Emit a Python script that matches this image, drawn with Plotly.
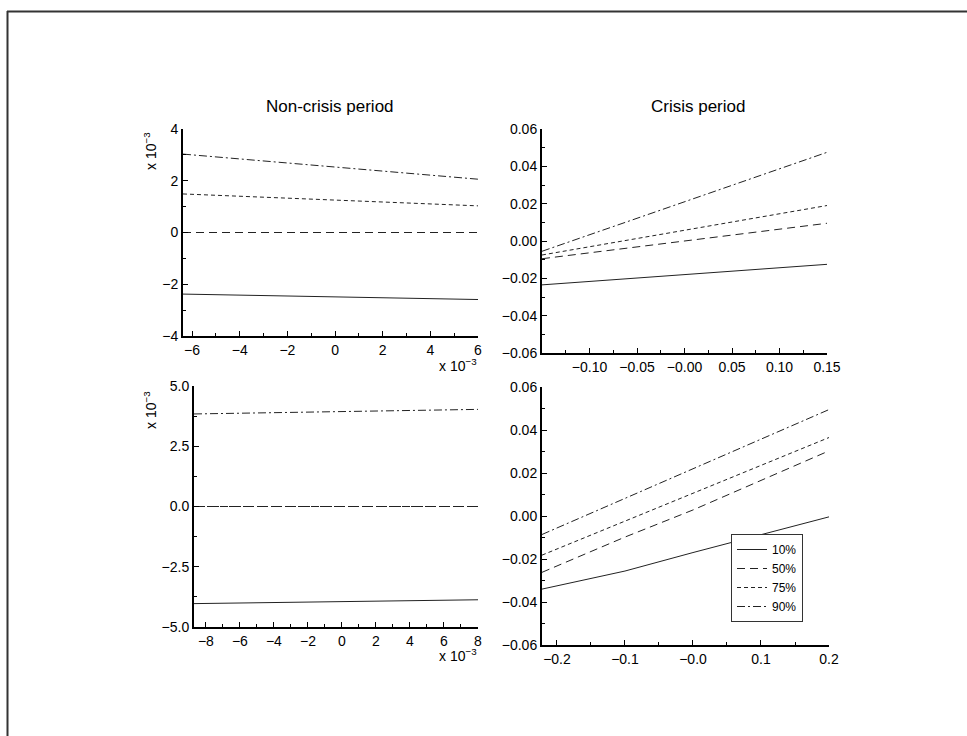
import plotly.graph_objects as go

W, H = 967, 736

series_names = ["10%", "50%", "75%", "90%"]

# Panel 1: Non-crisis period (values in units of 1e-3)
x1 = [-6.38, 6.0]
p1_10 = [-2.38, -2.59]
p1_50 = [0.0, 0.0]
p1_75 = [1.49, 1.03]
p1_90 = [3.03, 2.06]

# Panel 2: Crisis period
x2 = [-0.15, 0.15]
p2_10 = [-0.0235, -0.0125]
p2_50 = [-0.0095, 0.0095]
p2_75 = [-0.0075, 0.019]
p2_90 = [-0.0055, 0.0475]

# Panel 3: Non-crisis period (values in units of 1e-3)
x3 = [-8.7, 8.0]
p3_10 = [-4.03, -3.87]
p3_50 = [0.0, 0.0]
p3_75 = [0.0, 0.0]
p3_90 = [3.84, 4.03]

# Panel 4: Crisis period
x4 = [-0.222, -0.1, 0.0, 0.1, 0.2]
p4_10 = [-0.034, -0.0256, -0.017, -0.0086, -0.0004]
p4_50 = [-0.0262, -0.0098, 0.0028, 0.0166, 0.0303]
p4_75 = [-0.0182, -0.0023, 0.0107, 0.0236, 0.0365]
p4_90 = [-0.0086, 0.0081, 0.0218, 0.0356, 0.0495]

# tick labels
t1x = [-6, -4, -2, 0, 2, 4, 6]
t1x_txt = ["−6", "−4", "−2", "0", "2", "4", "6"]
t1y = [-4, -2, 0, 2, 4]
t1y_txt = ["−4", "−2", "0", "2", "4"]
t2x = [-0.10, -0.05, 0.0, 0.05, 0.10, 0.15]
t2x_txt = ["−0.10", "−0.05", "−0.00", "0.05", "0.10", "0.15"]
t2y = [-0.06, -0.04, -0.02, 0.0, 0.02, 0.04, 0.06]
t2y_txt = ["−0.06", "−0.04", "−0.02", "0.00", "0.02", "0.04", "0.06"]
t3x = [-8, -6, -4, -2, 0, 2, 4, 6, 8]
t3x_txt = ["−8", "−6", "−4", "−2", "0", "2", "4", "6", "8"]
t3y = [-5, -2.5, 0, 2.5, 5]
t3y_txt = ["−5.0", "−2.5", "0.0", "2.5", "5.0"]
t4x = [-0.2, -0.1, 0.0, 0.1, 0.2]
t4x_txt = ["−0.2", "−0.1", "−0.0", "0.1", "0.2"]

dashes = ["solid", "8px,5px", "4px,3px", "8px,3px,2px,3px"]
LC = "#222222"

fig = go.Figure()

panels = [
    (x1, [p1_10, p1_50, p1_75, p1_90], "x", "y"),
    (x2, [p2_10, p2_50, p2_75, p2_90], "x2", "y2"),
    (x3, [p3_10, p3_50, p3_75, p3_90], "x3", "y3"),
    (x4, [p4_10, p4_50, p4_75, p4_90], "x4", "y4"),
]
for pi, (xs, ys_list, xa, ya) in enumerate(panels):
    for si, ys in enumerate(ys_list):
        fig.add_trace(go.Scatter(
            x=xs, y=ys, mode="lines", xaxis=xa, yaxis=ya,
            name=series_names[si], showlegend=(pi == 3),
            line=dict(color=LC, width=1, dash=dashes[si]),
            hoverinfo="skip",
        ))

def px_dom_x(a, b):
    return [a / W, b / W]

def px_dom_y(top, bottom):
    return [1 - bottom / H, 1 - top / H]

FONT = "Liberation Sans, Arial, sans-serif"
TICK_SIZE = 14

def axis(domain, rng, tv, tt, minor_vals, anchor):
    return dict(
        domain=domain, range=rng, anchor=anchor, automargin=False,
        fixedrange=True,
        tickmode="array", tickvals=tv, ticktext=tt,
        ticks="inside", ticklen=5, tickwidth=1, tickcolor="black",
        minor=dict(ticks="inside", ticklen=3, tickwidth=1, tickcolor="black",
                   tickmode="array", tickvals=minor_vals),
        showline=True, linewidth=2, linecolor="black",
        showgrid=False, zeroline=False,
        tickfont=dict(family=FONT, size=TICK_SIZE, color="black"),
    )

layout = dict(
    width=W, height=H, autosize=False,
    margin=dict(l=0, r=0, t=0, b=0, pad=0),
    paper_bgcolor="white", plot_bgcolor="white",
    font=dict(family=FONT, size=12, color="black"),
    xaxis=axis(px_dom_x(183, 478), [-6.38, 6.0], t1x, t1x_txt,
               [-5, -3, -1, 1, 3, 5], "y"),
    yaxis=axis(px_dom_y(129, 336), [-4, 4], t1y, t1y_txt,
               [-3, -1, 1, 3], "x"),
    xaxis2=axis(px_dom_x(542, 827), [-0.15, 0.15], t2x, t2x_txt,
                [-0.125, -0.075, -0.025, 0.025, 0.075, 0.125], "y2"),
    yaxis2=axis(px_dom_y(129, 353), [-0.06, 0.06], t2y, t2y_txt,
                [-0.05, -0.03, -0.01, 0.01, 0.03, 0.05], "x2"),
    xaxis3=axis(px_dom_x(194, 478), [-8.7, 8.0], t3x, t3x_txt,
                [-7, -5, -3, -1, 1, 3, 5, 7], "y3"),
    yaxis3=axis(px_dom_y(386, 627), [-5, 5], t3y, t3y_txt,
                [-3.75, -1.25, 1.25, 3.75], "x3"),
    xaxis4=axis(px_dom_x(542, 829), [-0.222, 0.2], t4x, t4x_txt,
                [-0.15, -0.05, 0.05, 0.15], "y4"),
    yaxis4=axis(px_dom_y(387, 645), [-0.06, 0.06], t2y, t2y_txt,
                [-0.05, -0.03, -0.01, 0.01, 0.03, 0.05], "x4"),
    showlegend=True,
    hovermode=False,
    legend=dict(
        x=731 / W, y=1 - 534 / H, xanchor="left", yanchor="top",
        bgcolor="white", bordercolor="#333333", borderwidth=1,
        font=dict(family=FONT, size=12, color="black"),
        itemwidth=30, tracegroupgap=0,
    ),
)
fig.update_layout(**layout)

def ann(text, xpx, ypx, size=12, angle=0):
    fig.add_annotation(
        text=text, x=xpx / W, y=1 - ypx / H, xref="paper", yref="paper",
        showarrow=False, textangle=angle, font=dict(family=FONT, size=size, color="black"),
        xanchor="center", yanchor="middle",
    )

ann("Non-crisis period", 330, 106, size=17)
ann("Crisis period", 698, 106, size=17)
ann("x 10<sup>−3</sup>", 150, 151, size=14, angle=-90)
ann("x 10<sup>−3</sup>", 458, 365, size=14)
ann("x 10<sup>−3</sup>", 150, 410, size=14, angle=-90)
ann("x 10<sup>−3</sup>", 458, 655, size=14)

# page border (left and top edges)
fig.add_shape(type="line", xref="paper", yref="paper",
              x0=7.5 / W, x1=7.5 / W, y0=0, y1=1 - 11 / H,
              line=dict(color="#333333", width=2))
fig.add_shape(type="line", xref="paper", yref="paper",
              x0=7 / W, x1=1, y0=1 - 11.5 / H, y1=1 - 11.5 / H,
              line=dict(color="#333333", width=2))

fig.write_html(
    "out.html",
    config={"displayModeBar": False, "staticPlot": True},
    post_script=("document.documentElement.style.margin='0';"
                 "document.documentElement.style.overflow='hidden';"
                 "document.body.style.margin='0';"
                 "document.body.style.overflow='hidden';"),
)
